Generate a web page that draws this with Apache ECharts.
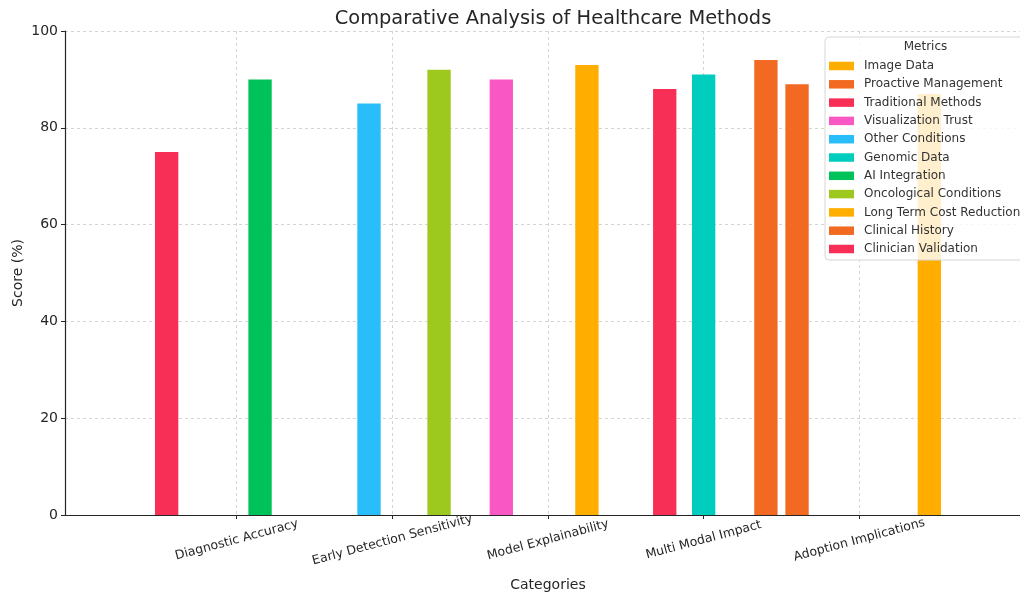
<!DOCTYPE html>
<html>
<head>
<meta charset="utf-8">
<script src="https://cdn.jsdelivr.net/npm/echarts@6/dist/echarts.min.js"></script>
<style>
  html, body { margin: 0; padding: 0; background: #fff; }
  #chart { width: 1020px; height: 594px; }
</style>
</head>
<body>
<div id="chart"></div>
<script>
// categories on the x axis
const categories = [
  "Diagnostic Accuracy",
  "Early Detection Sensitivity",
  "Model Explainability",
  "Multi Modal Impact",
  "Adoption Implications"
];

// one bar series per metric, in legend order
const metrics = [
  "Image Data",
  "Proactive Management",
  "Traditional Methods",
  "Visualization Trust",
  "Other Conditions",
  "Genomic Data",
  "AI Integration",
  "Oncological Conditions",
  "Long Term Cost Reduction",
  "Clinical History",
  "Clinician Validation"
];

// which category each metric belongs to, and its score
const metricCategory = [
  "Multi Modal Impact",
  "Adoption Implications",
  "Diagnostic Accuracy",
  "Model Explainability",
  "Early Detection Sensitivity",
  "Multi Modal Impact",
  "Diagnostic Accuracy",
  "Early Detection Sensitivity",
  "Adoption Implications",
  "Multi Modal Impact",
  "Model Explainability"
];
const metricScores = [93, 94, 75, 90, 85, 91, 90, 92, 87, 89, 88];

const yTicks = [0, 20, 40, 60, 80, 100];

const palette = [
  "#ffae00", "#f26a22", "#f72f57", "#f957c4", "#29bdf9", "#00cdbe",
  "#00c25a", "#9dc91e", "#ffae00", "#f26a22", "#f72f57"
];

const FONT = "DejaVu Sans";
const gridColor = "#d4d4d4";

// grid geometry (plot box runs past the right edge like the original)
const plotTop = 31, plotBottom = 79;
const catLeft = 236.7, catRight = 160.7;   // first / last category centres
const barW = (1020 - catLeft - catRight) / (categories.length - 1) * 0.15;

const series = metrics.map((name, i) => ({
  name: name,
  type: "bar",
  xAxisIndex: 1,
  yAxisIndex: 1,
  barWidth: barW,
  barGap: "0%",
  clip: false,
  itemStyle: { color: palette[i] },
  emphasis: { disabled: true },
  data: categories.map(c => (c === metricCategory[i] ? metricScores[i] : null))
}));

const chart = echarts.init(document.getElementById("chart"), null, { renderer: "canvas" });

chart.setOption({
  animation: false,
  color: palette,
  textStyle: { fontFamily: FONT },
  title: {
    text: "Comparative Analysis of Healthcare Methods",
    left: 548,
    textAlign: "center",
    top: 4,
    textStyle: { fontFamily: FONT, fontSize: 19.4, fontWeight: "normal", color: "#262626" }
  },
  grid: [
    { left: 65, right: -11, top: plotTop, bottom: plotBottom, outerBoundsMode: "none", containLabel: false },
    { left: catLeft, right: catRight, top: plotTop, bottom: plotBottom, outerBoundsMode: "none", containLabel: false }
  ],
  xAxis: [
    {
      type: "value",
      gridIndex: 0,
      min: 0,
      max: 1,
      name: "Categories",
      nameLocation: "middle",
      nameGap: 63,
      nameMoveOverlap: false,
      nameTextStyle: { fontFamily: FONT, fontSize: 14, color: "#262626" },
      axisLine: { show: true, lineStyle: { color: "#262626", width: 1.2 } },
      axisTick: { show: false },
      axisLabel: { show: false },
      splitLine: { show: false }
    },
    {
      type: "category",
      gridIndex: 1,
      data: categories,
      boundaryGap: false,
      axisLine: { show: false },
      axisTick: { show: true, length: 4, lineStyle: { color: "#262626" } },
      axisLabel: {
        rotate: 15,
        align: "center",
        verticalAlign: "middle",
        margin: 25,
        interval: 0,
        fontFamily: FONT,
        fontSize: 12.5,
        color: "#262626"
      },
      splitLine: { show: true, lineStyle: { color: gridColor, type: [3, 3], width: 1 } }
    }
  ],
  yAxis: [
    {
      type: "value",
      gridIndex: 0,
      min: 0,
      max: 100,
      interval: 20,
      name: "Score (%)",
      nameLocation: "middle",
      nameGap: 40,
      nameMoveOverlap: false,
      nameTextStyle: { fontFamily: FONT, fontSize: 14, color: "#262626" },
      axisLine: { show: true, lineStyle: { color: "#262626", width: 1.2 } },
      axisTick: { show: true, length: 4, lineStyle: { color: "#262626" } },
      axisLabel: {
        fontFamily: FONT,
        fontSize: 14,
        color: "#262626",
        margin: 7,
        customValues: yTicks
      },
      splitLine: { show: true, lineStyle: { color: gridColor, type: [3, 3], width: 1 } }
    },
    {
      type: "value",
      gridIndex: 1,
      min: 0,
      max: 100,
      show: false,
      splitLine: { show: false }
    }
  ],
  legend: {
    orient: "vertical",
    left: 829,
    top: 59,
    padding: 0,
    z: 20,
    itemWidth: 25,
    itemHeight: 8.5,
    itemGap: 4.3,
    icon: "rect",
    selectedMode: false,
    data: metrics,
    textStyle: {
      fontFamily: FONT,
      fontSize: 12,
      color: "#333",
      lineHeight: 14,
      padding: [0, 0, 0, 5]
    }
  },
  graphic: [
    {
      type: "rect",
      z: 10,
      shape: { x: 825, y: 37, width: 210, height: 223, r: 4 },
      style: { fill: "rgba(255,255,255,0.8)", stroke: "#d6d6d6", lineWidth: 1 }
    },
    {
      type: "text",
      z: 21,
      x: 925.5,
      y: 47,
      style: {
        text: "Metrics",
        fontFamily: FONT,
        fontSize: 12,
        fill: "#333",
        align: "center",
        verticalAlign: "middle"
      }
    }
  ],
  series: series
});
</script>
</body>
</html>
